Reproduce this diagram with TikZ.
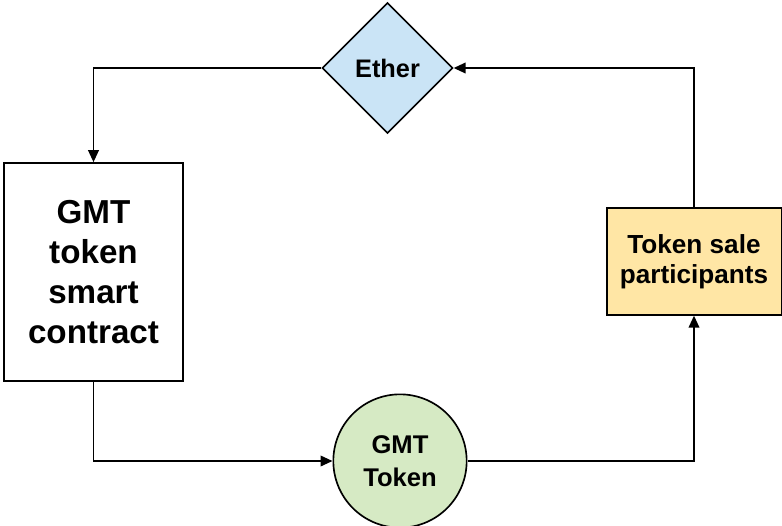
\documentclass[tikz,border=0pt]{standalone}
\usepackage{fontspec}
\setmainfont{Liberation Sans}
\usepackage{tikz}
\usetikzlibrary{shapes.geometric,arrows.meta}
\definecolor{etherblue}{RGB}{202,228,246}
\definecolor{tokengreen}{RGB}{214,234,196}
\definecolor{saleyellow}{RGB}{255,230,165}

\begin{document}
\begin{tikzpicture}[x=0.75pt, y=-0.75pt, line width=1.25pt,
	box/.style = {draw, rectangle, align=center, font=\bfseries, inner sep=0},
	arr/.style = {-{Triangle[length=9pt,width=8pt]}}]
	\useasboundingbox (0,0) rectangle (782,525);
	\node[draw, diamond, fill=etherblue, minimum size=98pt, inner sep=0, font=\bfseries\fontsize{19}{22}\selectfont] (ether) at (387.5,68){Ether};
	\node[box, minimum width=134pt, minimum height=163.5pt, font=\bfseries\fontsize{24.9}{30}\selectfont] (contract) at (93.5,272){GMT\\token\\smart\\contract};
	\node[box, fill=saleyellow, minimum width=131pt, minimum height=80pt, font=\bfseries\fontsize{19.6}{22.5}\selectfont] (sale) at (694,261.5){Token sale\\participants};
	\node[draw, circle, fill=tokengreen, minimum size=100pt, inner sep=0, align=center, font=\bfseries\fontsize{19.2}{25}\selectfont] (gmt) at (400,461){GMT\\Token};
	\draw[arr] (ether.west) -| (contract.north);
	\draw[arr] (contract.south) |- (gmt.west);
	\draw[arr] (gmt.east) -| (sale.south);
	\draw[arr] (sale.north) |- (ether.east);
\end{tikzpicture}
\end{document}
